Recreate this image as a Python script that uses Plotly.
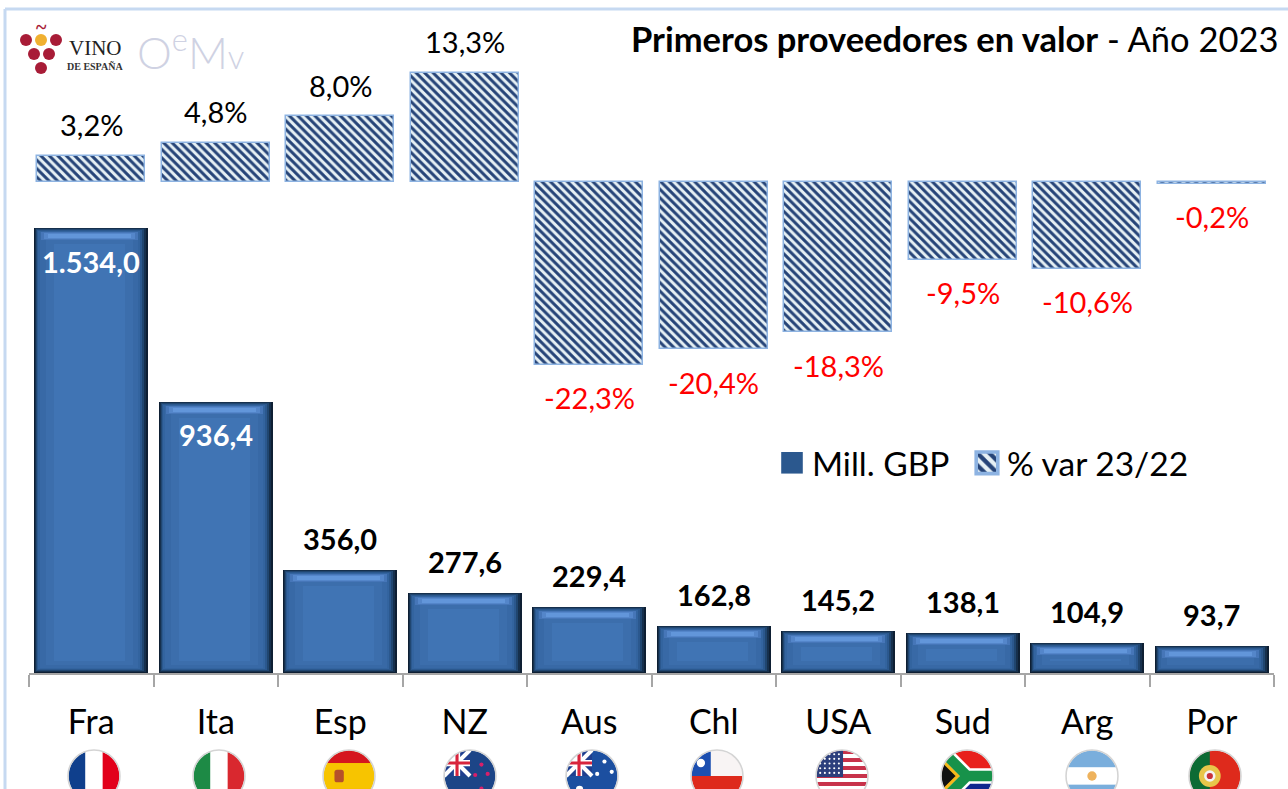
import base64
import plotly.graph_objects as go

# ---------- data ----------
categories = ["Fra", "Ita", "Esp", "NZ", "Aus", "Chl", "USA", "Sud", "Arg", "Por"]
mill_gbp = [1534.0, 936.4, 356.0, 277.6, 229.4, 162.8, 145.2, 138.1, 104.9, 93.7]
var_pct = [3.2, 4.8, 8.0, 13.3, -22.3, -20.4, -18.3, -9.5, -10.6, -0.2]
mill_labels = ["1.534,0", "936,4", "356,0", "277,6", "229,4", "162,8", "145,2", "138,1", "104,9", "93,7"]
var_labels = ["3,2%", "4,8%", "8,0%", "13,3%", "-22,3%", "-20,4%", "-18,3%", "-9,5%", "-10,6%", "-0,2%"]

W, H = 1288, 789
FONT = "Lato"
X0, X1 = 29, 1274
UNIT = (X1 - X0) / 10
BASE_Y = 673
SCALE = (BASE_Y - 228) / 1534
ZERO2_Y = 182
SCALE2 = 8.2
Y_TOP = 1600
Y2_RANGE = (-25, 15)


def px(x):
    return x / W


def py(y):
    return 1 - y / H


fig = go.Figure()

# bevelled lower bars: nested layers (left, right, top, bottom insets in px; band height or None)
BAR_PX = 114
layers = [
    (0, 0, 0, 0, None, "#0e1f33"),
    (1, 2, 0, 1, None, "#16304d"),
    (2, 4, 1, 2, None, "#204670"),
    (3, 6, 2, 3, None, "#2b588e"),
    (4, 8, 3, 4, None, "#33649f"),
    (6, 10, 4, 5, None, "#3869a6"),
    (7, 10, 4, None, 8, "#4676b8"),
    (10, 13, 5, None, 6, "#5486ca"),
    (14, 17, 6, None, 4, "#6296da"),
    (12, 15, 12, 8, None, "#3c6eac"),
    (20, 23, 16, 12, None, "#4074b4"),
]
for i, (l, r, t, b, band, color) in enumerate(layers):
    bases, heights = [], []
    for v in mill_gbp:
        top = v - t / SCALE
        low = top - band / SCALE if band else max(b / SCALE, 0)
        bases.append(low)
        heights.append(max(top - low, 0))
    fig.add_bar(
        x=categories, y=heights, base=bases,
        width=(BAR_PX - l - r) / UNIT,
        offset=(-BAR_PX / 2 + l) / UNIT,
        marker=dict(color=color, opacity=1, line=dict(width=0)),
        name="Mill. GBP", showlegend=i == 3, hoverinfo="skip",
        xaxis="x", yaxis="y",
    )

fig.add_bar(
    x=categories, y=var_pct, name="% var 23/22", width=108 / UNIT,
    marker=dict(
        color="#eaf2f6", opacity=1,
        line=dict(color="#8db3e2", width=1.5),
        pattern=dict(shape="\\", fgcolor="#264478", bgcolor="#e6f0f4", size=6, solidity=0.5, fgopacity=1),
    ),
    xaxis="x2", yaxis="y2", hoverinfo="skip",
)

annotations = []
for c, v, t in zip(categories, mill_gbp, mill_labels):
    inside = v > 500
    annotations.append(dict(
        x=c, y=v, xref="x", yref="y", text=f"<b>{t}</b>", showarrow=False,
        yshift=-33 if inside else 31,
        font=dict(family=FONT, size=29, color="white" if inside else "black"),
    ))
for c, v, t in zip(categories, var_pct, var_labels):
    annotations.append(dict(
        x=c, y=v, xref="x2", yref="y2", text=t, showarrow=False,
        yshift=31 if v > 0 else -33,
        font=dict(family=FONT, size=29, color="black" if v > 0 else "#ff0000"),
    ))

annotations.append(dict(
    x=px(1281), y=py(38), xref="paper", yref="paper", xanchor="right", yanchor="middle",
    text="<b>Primeros proveedores en valor</b> - Año 2023", showarrow=False,
    font=dict(family=FONT, size=34.5, color="black"),
))


def note(x, y, text, size, color="black", family=FONT, weight=None):
    f = dict(family=family, size=size, color=color)
    if weight:
        f["weight"] = weight
    annotations.append(dict(
        x=px(x), y=py(y), xref="paper", yref="paper", xanchor="center", yanchor="middle",
        text=text, showarrow=False, font=f,
    ))


# logos
note(95, 48, "VINO", 21, "#222222", "Liberation Serif")
note(95, 66, "<b>DE ESPAÑA</b>", 10, "#333333", "Liberation Serif")
note(41, 27, "<b>~</b>", 20, "#a81c37", "Liberation Serif")
note(190, 50, "O<sup>e</sup>M<span style='font-size:33px'>v</span>", 44, "#cfd2e3", FONT, 300)

shapes = [
    dict(type="line", xref="paper", yref="paper", x0=px(5), x1=1, y0=py(9), y1=py(9),
         line=dict(color="#c6d9f1", width=3)),
    dict(type="line", xref="paper", yref="paper", x0=px(5), x1=px(5), y0=py(9), y1=0,
         line=dict(color="#c6d9f1", width=3)),
]
for cx, cy, col in [(26, 40, "#a81c37"), (41, 40, "#f0b030"), (56, 40, "#a81c37"),
                    (34, 54, "#a81c37"), (49, 54, "#a81c37"), (41, 68, "#a81c37")]:
    shapes.append(dict(type="circle", xref="paper", yref="paper",
                       x0=px(cx - 6), x1=px(cx + 6), y0=py(cy + 6), y1=py(cy - 6),
                       fillcolor=col, line=dict(width=0)))


def stripes(cols, vertical=False):
    n = len(cols)
    out = ""
    for i, c in enumerate(cols):
        if vertical:
            out += f'<rect x="{100*i/n}" y="0" width="{100/n+0.5}" height="100" fill="{c}"/>'
        else:
            out += f'<rect x="0" y="{100*i/n}" width="100" height="{100/n+0.5}" fill="{c}"/>'
    return out


UK = ('<rect width="50" height="50" fill="#1f3f8f"/>'
      '<path d="M0 0L50 50M50 0L0 50" stroke="#fff" stroke-width="8"/>'
      '<path d="M25 0V50M0 25H50" stroke="#fff" stroke-width="12"/>'
      '<path d="M25 0V50M0 25H50" stroke="#d8243c" stroke-width="6"/>')

usa = stripes(["#c8324a", "#fff"] * 6 + ["#c8324a"]) + '<rect width="52" height="52" fill="#2c3f7c"/>'
usa += "".join(f'<circle cx="{x}" cy="{y}" r="2" fill="#fff"/>'
               for x in range(8, 50, 9) for y in range(8, 50, 9))

flags = {
    "Fra": stripes(["#0f3f8c", "#ffffff", "#e2001a"], True),
    "Ita": stripes(["#1d8a45", "#ffffff", "#d9282f"], True),
    "Esp": '<rect width="100" height="100" fill="#f7c400"/><rect width="100" height="25" fill="#d5161e"/>'
           '<rect y="75" width="100" height="25" fill="#d5161e"/>'
           '<rect x="22" y="38" width="18" height="24" rx="5" fill="#b5502a"/>',
    "NZ": '<rect width="100" height="100" fill="#1c4587"/>' + UK + "".join(
        f'<circle cx="{x}" cy="{y}" r="4" fill="#d81f6a"/>'
        for x, y in [(72, 28), (60, 48), (84, 46), (72, 74)]),
    "Aus": '<rect width="100" height="100" fill="#1c4fa0"/>' + UK + "".join(
        f'<circle cx="{x}" cy="{y}" r="{r}" fill="#fff"/>'
        for x, y, r in [(26, 76, 7), (74, 22, 4), (60, 46, 4), (88, 42, 4), (74, 80, 4)]),
    "Chl": '<rect width="100" height="50" fill="#f8f4f4"/><rect y="50" width="100" height="50" fill="#de2a1c"/>'
           '<rect width="38" height="50" fill="#1c4fb0"/><circle cx="19" cy="25" r="8" fill="#fff"/>',
    "USA": usa,
    "Sud": '<rect width="100" height="50" fill="#e8201c"/><rect y="50" width="100" height="50" fill="#10278f"/>'
           '<path d="M0 0L50 50L0 100M50 50H100" stroke="#fff" stroke-width="30" fill="none"/>'
           '<path d="M0 0L50 50L0 100M50 50H100" stroke="#17924a" stroke-width="20" fill="none"/>'
           '<path d="M0 18L32 50L0 82Z" fill="#111"/>'
           '<path d="M0 18L32 50L0 82" stroke="#f6b81a" stroke-width="6" fill="none"/>',
    "Arg": stripes(["#7aaedc", "#ffffff", "#7aaedc"]) + '<circle cx="50" cy="50" r="9" fill="#eeb25c"/>',
    "Por": '<rect width="100" height="100" fill="#de2a1c"/><rect width="40" height="100" fill="#0c6b34"/>'
           '<circle cx="40" cy="50" r="21" fill="#e8c64a"/><circle cx="40" cy="50" r="11" fill="#f4f4f4"/>'
           '<circle cx="40" cy="50" r="6" fill="#c8323a"/>',
}
flag_centers = [94, 219, 349, 470, 592, 717, 842, 967, 1092, 1215]
images = []
for cat, cx in zip(categories, flag_centers):
    svg = ('<svg xmlns="http://www.w3.org/2000/svg" viewBox="0 0 104 104" width="104" height="104">'
           '<defs><clipPath id="c"><circle cx="52" cy="52" r="49"/></clipPath></defs>'
           f'<g clip-path="url(#c)"><g transform="translate(2 2)">{flags[cat]}</g></g>'
           '<circle cx="52" cy="52" r="50" fill="none" stroke="#d4d4d4" stroke-width="3"/></svg>')
    uri = "data:image/svg+xml;base64," + base64.b64encode(svg.encode()).decode()
    images.append(dict(source=uri, xref="paper", yref="paper", x=px(cx - 27), y=py(749),
                       sizex=54 / W, sizey=54 / H, xanchor="left", yanchor="top",
                       sizing="stretch", layer="above"))

hidden = dict(visible=False, showgrid=False, zeroline=False)
fig.update_layout(
    width=W, height=H, margin=dict(l=0, r=0, t=0, b=0),
    paper_bgcolor="white", plot_bgcolor="rgba(0,0,0,0)",
    barmode="overlay", bargap=0,
    font=dict(family=FONT, color="black"),
    xaxis=dict(
        domain=[px(X0), px(X1)], type="category", categoryorder="array", categoryarray=categories,
        range=[-0.5, 9.5], anchor="y", tickson="boundaries", ticks="outside", ticklen=12, tickwidth=2,
        tickcolor="#a6a6a6", showline=True, linecolor="#a6a6a6", linewidth=2, showgrid=False,
        zeroline=False, tickfont=dict(family=FONT, size=34, color="black"), ticklabelstandoff=18,
        fixedrange=True,
    ),
    xaxis2=dict(domain=[px(X0), px(X1)], type="category", categoryorder="array", categoryarray=categories,
                range=[-0.5, 9.5], anchor="y2", **hidden),
    yaxis=dict(domain=[py(BASE_Y), py(BASE_Y - Y_TOP * SCALE)], range=[0, Y_TOP], anchor="x", **hidden),
    yaxis2=dict(domain=[py(ZERO2_Y - Y2_RANGE[0] * SCALE2), py(ZERO2_Y - Y2_RANGE[1] * SCALE2)],
                range=list(Y2_RANGE), anchor="x2", **hidden),
    legend=dict(orientation="h", x=px(772), y=py(463), xanchor="left", yanchor="middle",
                font=dict(family=FONT, size=33.5, color="black"), bgcolor="rgba(0,0,0,0)",
                itemsizing="constant", itemwidth=30, traceorder="normal",
                entrywidth=150, entrywidthmode="pixels"),
    annotations=annotations, shapes=shapes, images=images, showlegend=True,
)

fig.write_html(
    "out.html",
    config=dict(displayModeBar=False),
    post_script=(
        "document.body.style.margin='0';document.body.style.overflow='hidden';"
        "document.querySelectorAll('.legendpoints path').forEach(function(p){"
        "var t=p.getAttribute('transform')||'';p.setAttribute('transform',t+' scale(1.8)');});"
        "document.querySelectorAll('.legend .scrollbox').forEach(function(s){"
        "s.removeAttribute('clip-path');s.style.clipPath='none';});"
    ),
)
